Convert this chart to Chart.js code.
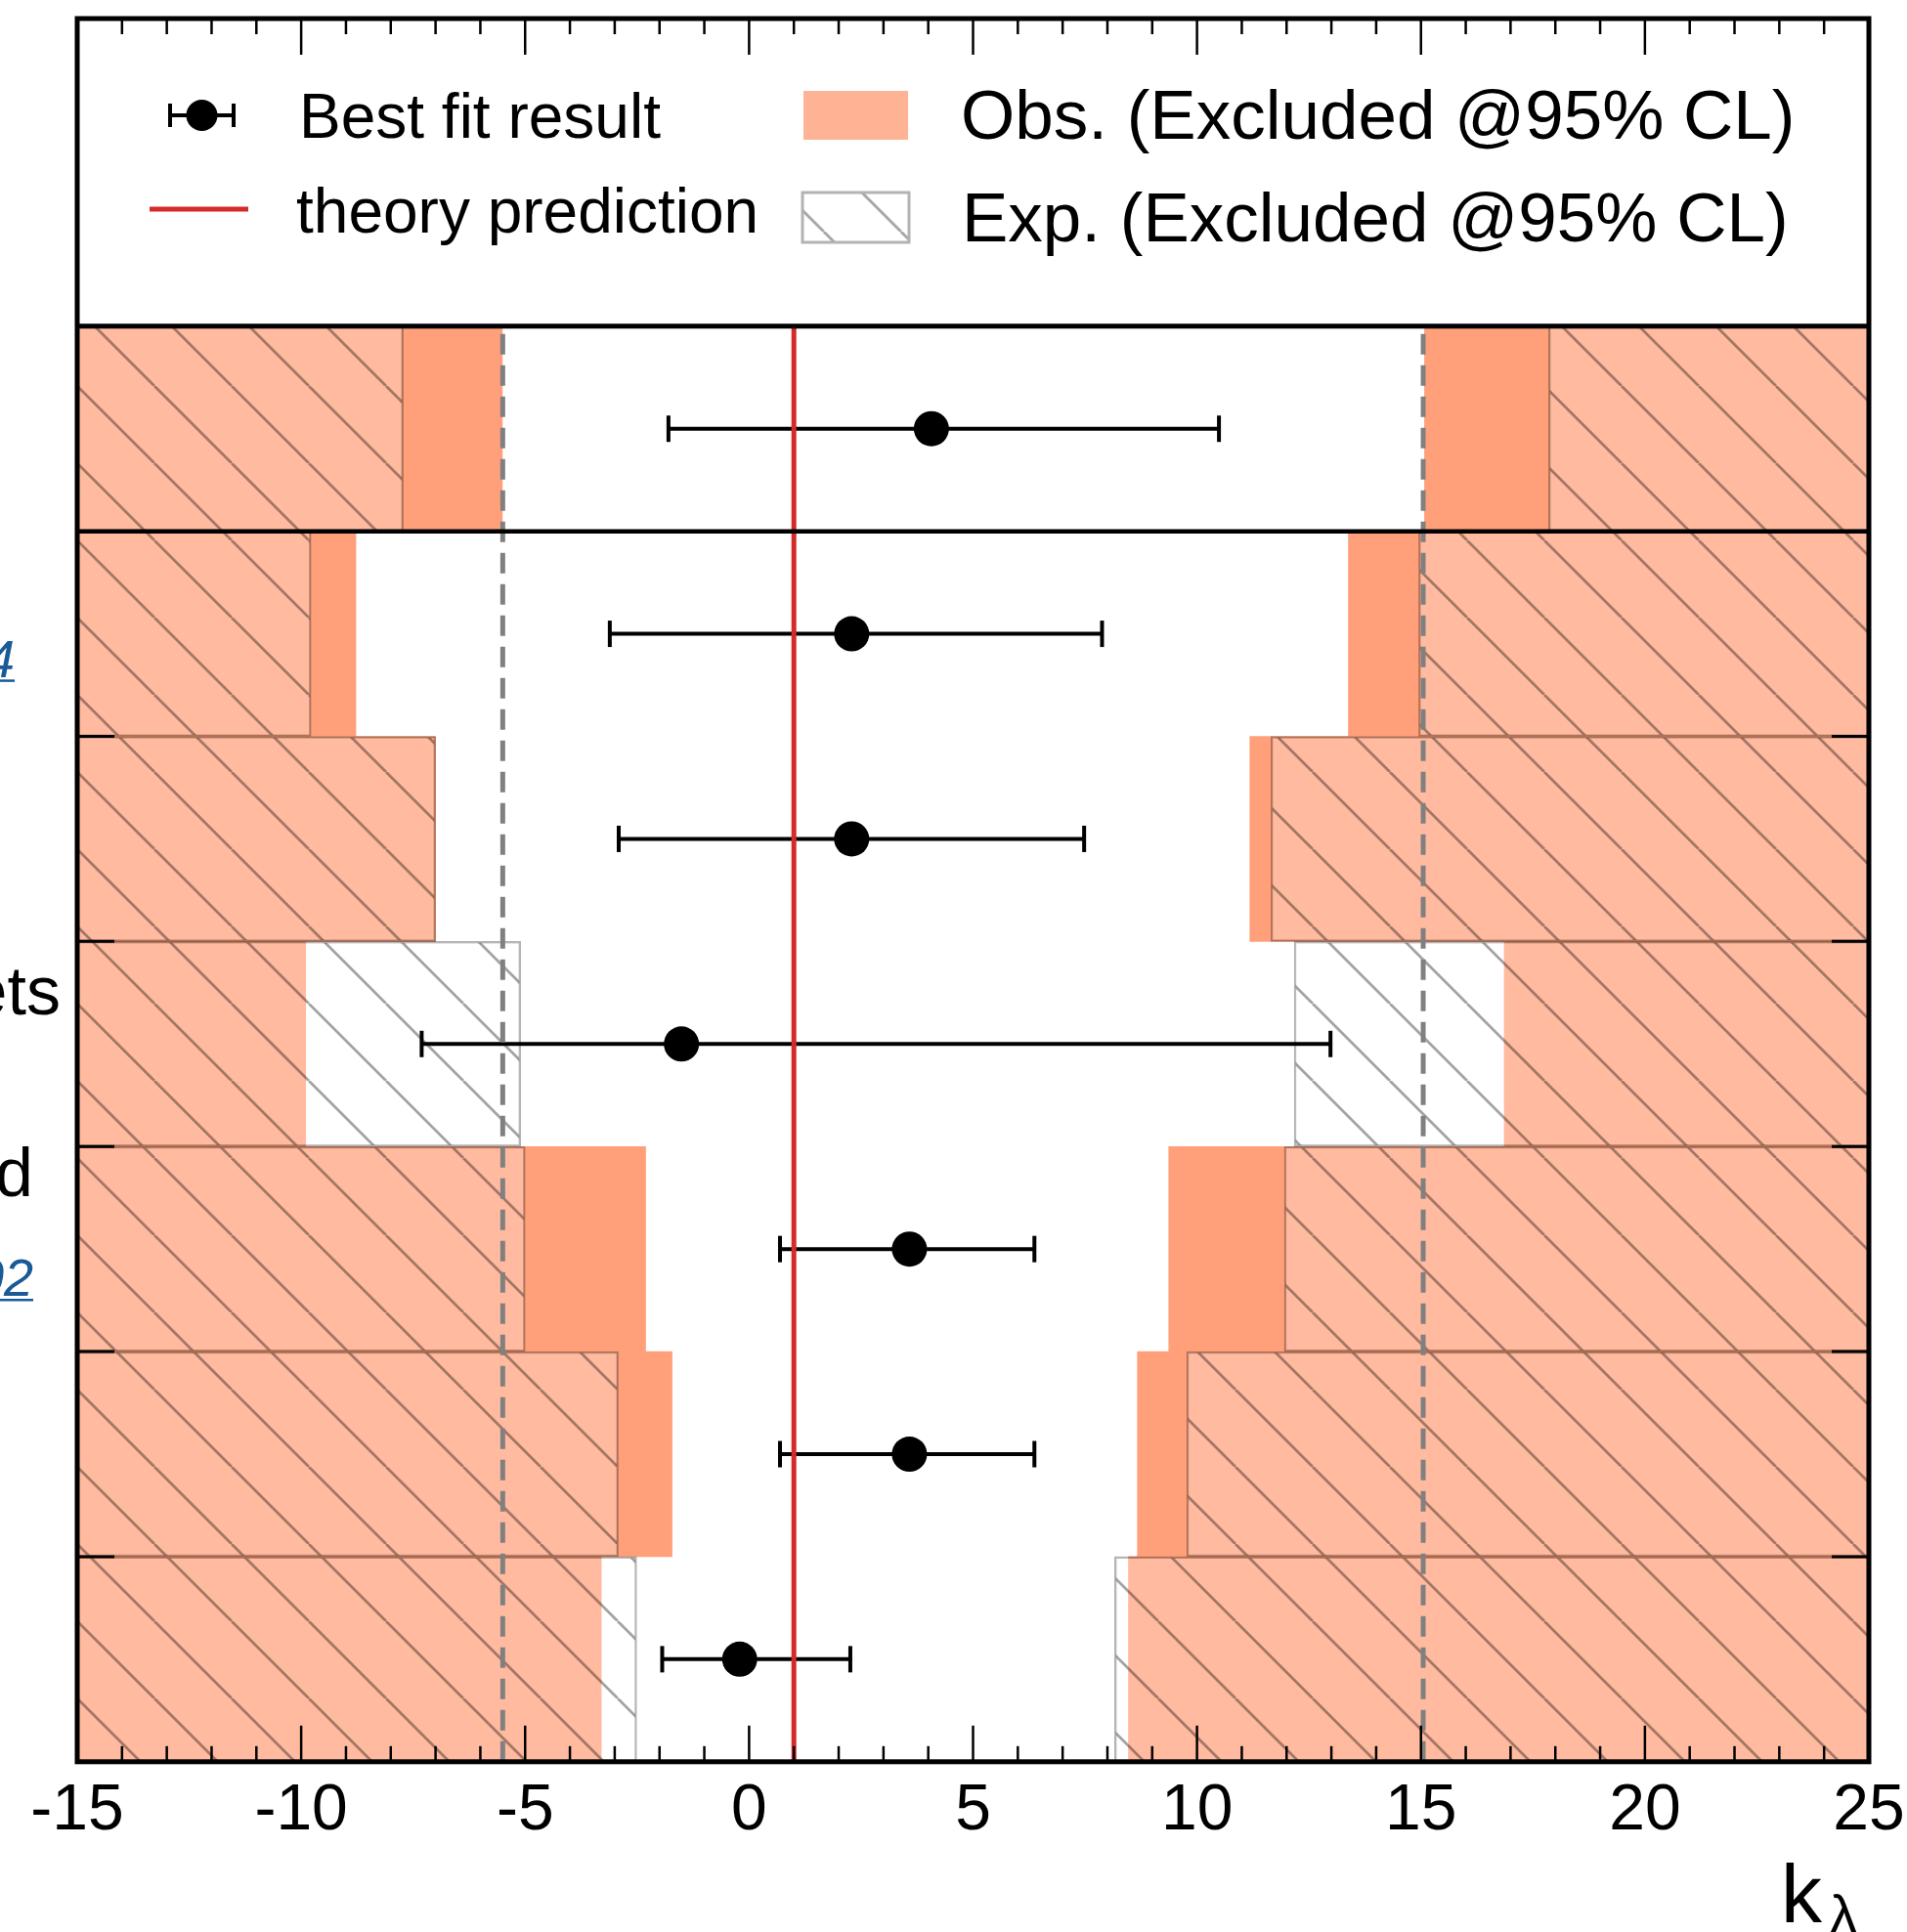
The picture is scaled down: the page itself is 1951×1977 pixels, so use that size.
<!DOCTYPE html>
<html>
<head>
<meta charset="utf-8">
<script src="https://cdn.jsdelivr.net/npm/chart.js@4.4.1/dist/chart.umd.min.js"></script>
<style>
  html, body { margin: 0; padding: 0; background: #fff; }
  canvas { display: block; }
</style>
</head>
<body>
<canvas id="grafico" width="1951" height="1977"></canvas>
<script>
// linhas de cima para baixo (a primeira é a combinação)
const rowY = [6.5, 5.5, 4.5, 3.5, 2.5, 1.5, 0.5];
const bestFit = [4.07, 2.29, 2.29, -1.51, 3.58, 3.58, -0.21];
const errLow = [-1.8, -3.11, -2.91, -7.31, 0.69, 0.69, -1.94];
const errHigh = [10.49, 7.88, 7.48, 12.98, 6.37, 6.37, 2.26];
const obsLeft = [-5.51, -8.78, -7.0, -9.9, -2.31, -1.72, -3.3];
const obsRight = [15.08, 13.38, 11.18, 16.86, 9.37, 8.67, 8.47];
const expLeft = [-7.72, -9.78, -7.0, -5.1, -5.0, -2.92, -2.51];
const expRight = [17.85, 14.95, 11.65, 12.17, 11.95, 9.77, 8.16];
const theoryK = 1;
const dashedK = [-5.5, 15.05];
const xMin = -15, xMax = 25;
const xTicks = [-15, -10, -5, 0, 5, 10, 15, 20, 25];
const rowEdges = [0, 1, 2, 3, 4, 5, 6, 7];
const rowLabelLines = [[], ["4"], [], ["ets"], ["d", "02"], [], []];
const legendLabels = ["Best fit result", "theory prediction", "Obs. (Excluded @95% CL)", "Exp. (Excluded @95% CL)"];
const axisTitle = ["k", "λ"];

const FONTE = '"Liberation Sans", Arial, sans-serif';
const SALMAO = '#ffa07a';
const VERMELHO = '#d62a2a';

function hachura(fundo, dx) {
  const s = 79;
  const c = document.createElement('canvas');
  c.width = s; c.height = s;
  const g = c.getContext('2d');
  g.fillStyle = fundo;
  g.fillRect(0, 0, s, s);
  g.strokeStyle = 'rgba(0,0,0,0.36)';
  g.lineWidth = 2.8;
  g.beginPath();
  for (const o of [-s, 0, s]) { g.moveTo(o, 0); g.lineTo(o + s, s); }
  g.stroke();
  const p = g.createPattern(c, 'repeat');
  if (dx) p.setTransform(new DOMMatrix().translate(dx, 0));
  return p;
}

const dadosObs = [], dadosExp = [];
rowY.forEach((y, i) => {
  dadosObs.push({ x: [xMin, obsLeft[i]], y }, { x: [obsRight[i], xMax], y });
  dadosExp.push({ x: [xMin, expLeft[i]], y }, { x: [expRight[i], xMax], y });
});
const dadosPontos = rowY.map((y, i) => ({ x: bestFit[i], y }));
const linhaVertical = k => [{ x: k, y: 0 }, { x: k, y: 7 }];

const fragOffsets = [[], [[15, 44]], [], [[62, -30]], [[34, -54], [34, 48]], [], []];

function linha(ctx, x0, y0, x1, y1) {
  ctx.beginPath(); ctx.moveTo(x0, y0); ctx.lineTo(x1, y1); ctx.stroke();
}

const desenhoExtra = {
  id: 'desenhoExtra',
  beforeDatasetDraw(chart, args) {
    if (args.index !== 2) return;
    const { ctx, scales: { x, y } } = chart;
    ctx.save();
    ctx.strokeStyle = '#000';
    ctx.lineWidth = 4;
    rowY.forEach((v, i) => {
      const py = y.getPixelForValue(v);
      const x0 = x.getPixelForValue(errLow[i]);
      const x1 = x.getPixelForValue(errHigh[i]);
      linha(ctx, x0, py, x1, py);
      linha(ctx, x0, py - 13.5, x0, py + 13.5);
      linha(ctx, x1, py - 13.5, x1, py + 13.5);
    });
    ctx.restore();
  },
  afterDraw(chart) {
    const { ctx, chartArea: a, scales: { x, y } } = chart;
    ctx.save();
    ctx.strokeStyle = '#000';

    // separadores
    ctx.lineWidth = 5;
    const yLeg = y.getPixelForValue(7);
    linha(ctx, a.left, yLeg, a.right, yLeg);
    ctx.lineWidth = 4.5;
    const ySep = y.getPixelForValue(6);
    linha(ctx, a.left, ySep, a.right, ySep);

    // ticks do eixo y nas fronteiras das linhas
    ctx.lineWidth = 3;
    rowEdges.filter(v => v > 0 && v < 6).forEach(v => {
      const py = y.getPixelForValue(v);
      linha(ctx, a.left, py, a.left + 38, py);
      linha(ctx, a.right - 38, py, a.right, py);
    });

    // ticks do eixo x (para dentro, em cima e em baixo)
    ctx.lineWidth = 2.5;
    for (let v = xMin + 1; v < xMax; v++) {
      const len = v % 5 === 0 ? 37 : 16;
      const px = x.getPixelForValue(v);
      linha(ctx, px, a.top, px, a.top + len);
      linha(ctx, px, a.bottom, px, a.bottom - len);
    }

    // moldura
    ctx.lineWidth = 5;
    ctx.strokeRect(a.left, a.top, a.right - a.left, a.bottom - a.top);

    // legenda
    ctx.lineWidth = 4;
    linha(ctx, 174, 118, 239, 118);
    linha(ctx, 174, 106, 174, 130);
    linha(ctx, 239, 106, 239, 130);
    ctx.fillStyle = '#000';
    ctx.beginPath(); ctx.arc(206.5, 118, 16, 0, Math.PI * 2); ctx.fill();
    ctx.strokeStyle = VERMELHO;
    ctx.lineWidth = 5;
    linha(ctx, 153, 214, 254, 214);

    ctx.fillStyle = 'rgba(255,160,122,0.8)';
    ctx.fillRect(822, 93, 107, 50);
    ctx.fillStyle = hachura('#fff', 52.7);
    ctx.fillRect(821, 197, 109, 51);
    ctx.strokeStyle = '#b3b3b3';
    ctx.lineWidth = 3;
    ctx.strokeRect(821, 197, 109, 51);

    ctx.fillStyle = '#000';
    ctx.textAlign = 'left';
    ctx.textBaseline = 'alphabetic';
    ctx.font = '64px ' + FONTE;
    ctx.fillText(legendLabels[0], 306, 141);
    ctx.fillText(legendLabels[1], 303, 238);
    ctx.font = '71px ' + FONTE;
    ctx.fillText(legendLabels[2], 983, 142);
    ctx.fillText(legendLabels[3], 984, 247);

    // rótulos das linhas (cortados na borda da figura)
    ctx.textAlign = 'right';
    rowLabelLines.forEach((linhas, i) => {
      const py = y.getPixelForValue(rowY[i]);
      linhas.forEach((t, j) => {
        const [rx, dy] = fragOffsets[i][j];
        const link = /^\d+$/.test(t);
        ctx.font = (link ? 'italic 54px ' : '70px ') + FONTE;
        ctx.fillStyle = link ? '#1a5a96' : '#000';
        ctx.fillText(t, rx, py + dy);
        if (link) {
          ctx.strokeStyle = '#1a5a96';
          ctx.lineWidth = 2.5;
          linha(ctx, 0, py + dy + 4, rx, py + dy + 4);
        }
      });
    });

    // título do eixo x
    ctx.fillStyle = '#000';
    ctx.textAlign = 'left';
    ctx.font = '84px ' + FONTE;
    ctx.fillText(axisTitle[0], 1822, 1967);
    ctx.font = '56px ' + FONTE;
    ctx.fillText(axisTitle[1], 1872, 1978);
    ctx.restore();
  }
};

new Chart(document.getElementById('grafico'), {
  type: 'bar',
  data: {
    datasets: [
      {
        label: 'Obs.',
        data: dadosObs,
        backgroundColor: SALMAO,
        borderWidth: 0,
        order: 5
      },
      {
        label: 'Exp.',
        data: dadosExp,
        backgroundColor: hachura('rgba(255,255,255,0.28)', 0),
        borderColor: 'rgba(0,0,0,0.3)',
        borderWidth: 1.8,
        borderSkipped: false,
        order: 4
      },
      {
        type: 'scatter',
        label: 'Best fit result',
        data: dadosPontos,
        backgroundColor: '#000',
        borderWidth: 0,
        pointRadius: 18,
        order: 3
      },
      {
        type: 'line',
        data: linhaVertical(dashedK[0]),
        borderColor: '#808080',
        borderWidth: 5,
        borderDash: [21, 11],
        pointRadius: 0,
        order: 2
      },
      {
        type: 'line',
        data: linhaVertical(dashedK[1]),
        borderColor: '#808080',
        borderWidth: 5,
        borderDash: [21, 11],
        pointRadius: 0,
        order: 2
      },
      {
        type: 'line',
        label: 'theory prediction',
        data: linhaVertical(theoryK),
        borderColor: VERMELHO,
        borderWidth: 5,
        pointRadius: 0,
        order: 1
      }
    ]
  },
  options: {
    indexAxis: 'y',
    responsive: false,
    devicePixelRatio: 1,
    animation: false,
    events: [],
    layout: { padding: { left: 79, right: 39, top: 19, bottom: 73 } },
    datasets: {
      bar: { barPercentage: 1, categoryPercentage: 1, grouped: false }
    },
    scales: {
      x: {
        type: 'linear',
        min: xMin,
        max: xMax,
        afterBuildTicks: s => { s.ticks = xTicks.map(v => ({ value: v })); },
        afterFit: s => { s.paddingLeft = 0; s.paddingRight = 0; },
        ticks: {
          color: '#000',
          font: { family: FONTE, size: 66 },
          padding: 11,
          autoSkip: false,
          maxRotation: 0
        },
        grid: { display: false, drawTicks: false },
        border: { display: false }
      },
      y: {
        type: 'linear',
        min: 0,
        max: 8.5,
        offset: false,
        display: false,
        afterBuildTicks: s => { s.ticks = rowEdges.map(v => ({ value: v })); },
        grid: { display: false, offset: false }
      }
    },
    plugins: {
      legend: { display: false },
      tooltip: { enabled: false }
    }
  },
  plugins: [desenhoExtra]
});
</script>
</body>
</html>
